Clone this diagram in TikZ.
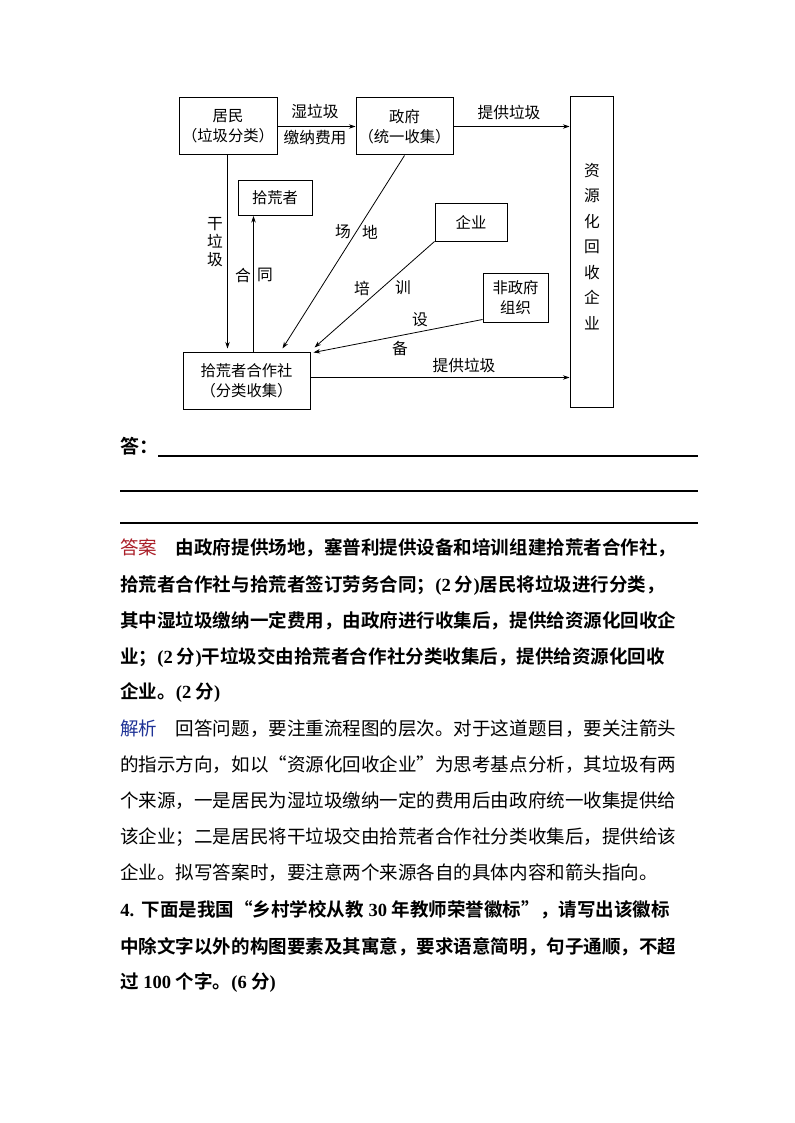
\documentclass[tikz,border=0pt]{standalone}
\usepackage{fontspec}
\usetikzlibrary{arrows.meta}
\newfontfamily\cjk[BoldFont={Noto Sans CJK SC Bold}]{Noto Sans CJK SC}
\newfontfamily\tms{Liberation Serif}
\definecolor{ansred}{RGB}{170,30,40}
\definecolor{jxblue}{RGB}{30,50,150}
\tikzset{
  box/.style={draw, line width=0.75pt, inner sep=0pt, align=center,
    font=\cjk\fontsize{11.5}{15}\selectfont},
  arr/.style={-{Stealth[length=5pt,width=3.4pt]}, line width=0.6pt},
  lab/.style={inner sep=0pt, font=\cjk\fontsize{11.8}{14}\selectfont},
  para/.style={anchor=west, inner sep=0pt, font=\cjk\bfseries\fontsize{13.9}{18}\selectfont},
  parar/.style={anchor=west, inner sep=0pt, font=\cjk\fontsize{13.9}{18}\selectfont},
  rule/.style={line width=0.8pt},
}
\begin{document}
\begin{tikzpicture}[x=0.75pt,y=-0.75pt]
\fill[white] (0,0) rectangle (794,1123);
\useasboundingbox (0,0) rectangle (794,1123);

% boxes
\node[box, minimum width=73.5pt, minimum height=42.75pt] (jm) at (228,126.5) {居民\\（垃圾分类）};
\node[box, minimum width=72.75pt, minimum height=42.75pt] (zf) at (404.5,126.5) {政府\\（统一收集）};
\node[box, minimum width=32.25pt, minimum height=232.5pt] (zy) at (591.5,252) {};
\node[lab, align=center, font=\cjk\fontsize{11.8}{19.1}\selectfont] (zyt) at (592,246.5) {资\\源\\化\\回\\收\\企\\业};
\node[box, minimum width=55.5pt, minimum height=26.25pt] (shz) at (275,198) {拾荒者};
\node[box, minimum width=54pt, minimum height=27.75pt] (qy) at (471,222.5) {企业};
\node[box, minimum width=48.75pt, minimum height=36.75pt] (fz) at (515.5,297.5) {非政府\\组织};
\node[box, minimum width=95.25pt, minimum height=42.75pt] (hz) at (246.5,380.5) {拾荒者合作社\\（分类收集）};

% connectors
\draw[arr] (jm.east) -- (zf.west);
\draw[arr] (zf.east) -- (zf.east -| zy.west);
\draw[arr] ([xshift=36.75pt]jm.south west) -- ([xshift=33.75pt,yshift=2.25pt]hz.north west);
\draw[arr] ([xshift=53.25pt]hz.north west) -- ([xshift=12pt]shz.south west);
\draw[arr] (zf.south) -- ([xshift=75pt,yshift=2.25pt]hz.north west);
\draw[arr] (qy.south west) -- ([xshift=3pt,yshift=3pt]hz.north east);
\draw[arr] ([yshift=2.25pt]fz.south west) -- ([xshift=2.25pt,yshift=-0.75pt]hz.north east);
\path ([yshift=2.25pt]hz.east) coordinate (b1);
\draw[arr] (b1) -- (b1 -| zy.west);

% connector labels
\node[lab] (l1) at (315,111) {湿垃圾};
\node[lab] (l2) at (315,138) {缴纳费用};
\node[lab] (l3) at (509,112) {提供垃圾};
\node[lab, align=center, font=\cjk\fontsize{11.8}{13.8}\selectfont] (l4) at (215,242) {干\\垃\\圾};
\node[lab] (l5) at (243,275) {合};
\node[lab] (l6) at (265,275) {同};
\node[lab] (l7) at (343,232) {场};
\node[lab] (l8) at (370,232) {地};
\node[lab] (l9) at (362,288) {培};
\node[lab] (l10) at (403,288) {训};
\node[lab] (l11) at (420,320) {设};
\node[lab] (l12) at (400,348) {备};
\node[lab] (l13) at (464,365) {提供垃圾};

% answer lines
\node[para, font=\cjk\bfseries\fontsize{14.25}{18}\selectfont] (da) at (120,446) {答：};
\draw[rule] (158,456) -- (698,456);
\draw[rule] (120,491) -- (698,491);
\draw[rule] (120,523) -- (698,523);

% answer text
\node[para] (t1) at (120,548) {{\color{ansred}\mdseries 答案}\hspace{1em}由政府提供场地，塞普利提供设备和培训组建拾荒者合作社，};
\node[para] (t2) at (120,585) {拾荒者合作社与拾荒者签订劳务合同；{\tms(2} 分{\tms)}居民将垃圾进行分类，};
\node[para] (t3) at (120,621) {其中湿垃圾缴纳一定费用，由政府进行收集后，提供给资源化回收企};
\node[para] (t4) at (120,657) {业；{\tms(2} 分{\tms)}干垃圾交由拾荒者合作社分类收集后，提供给资源化回收};
\node[para] (t5) at (120,693) {企业。{\tms(2} 分{\tms)}};
\node[parar] (t6) at (120,729) {{\color{jxblue}解析}\hspace{1em}回答问题，要注重流程图的层次。对于这道题目，要关注箭头};
\node[parar] (t7) at (120,765) {的指示方向，如以“资源化回收企业”为思考基点分析，其垃圾有两};
\node[parar] (t8) at (120,801) {个来源，一是居民为湿垃圾缴纳一定的费用后由政府统一收集提供给};
\node[parar] (t9) at (120,837) {该企业；二是居民将干垃圾交由拾荒者合作社分类收集后，提供给该};
\node[parar] (t10) at (120,873) {企业。拟写答案时，要注意两个来源各自的具体内容和箭头指向。};
\node[para] (t11) at (120,910) {{\tms 4.}\hspace{0.4em}下面是我国“乡村学校从教{\tms\ 30 }年教师荣誉徽标”，请写出该徽标};
\node[para] (t12) at (120,947) {中除文字以外的构图要素及其寓意，要求语意简明，句子通顺，不超};
\node[para] (t13) at (120,983) {过{\tms\ 100 }个字。{\tms(6} 分{\tms)}};
\end{tikzpicture}
\end{document}
